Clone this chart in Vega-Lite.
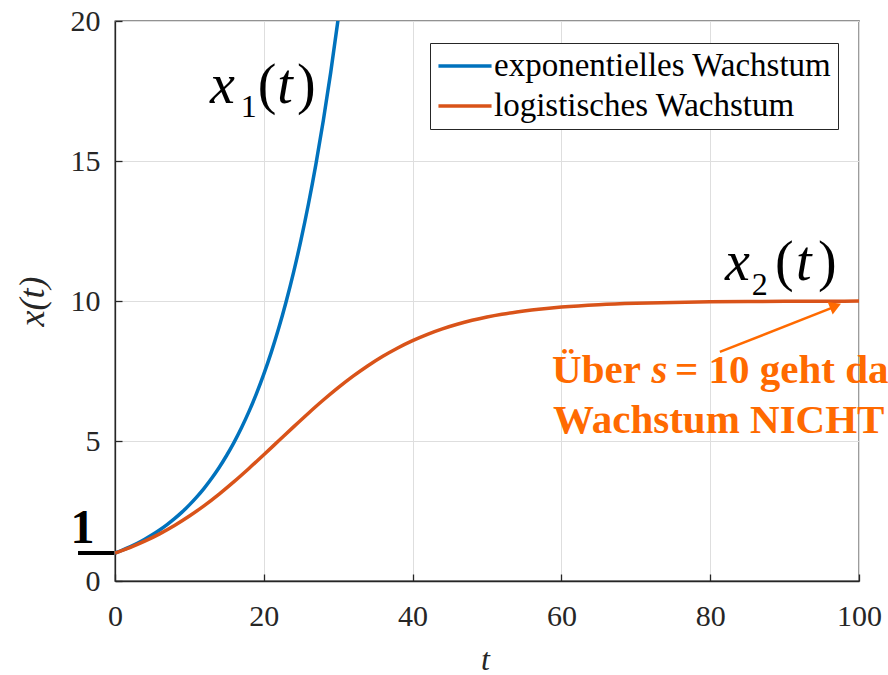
{
  "$schema": "https://vega.github.io/schema/vega-lite/v6.json",
  "width": 744,
  "height": 560,
  "autosize": {"type": "none"},
  "padding": {"left": 115, "top": 21, "right": 29, "bottom": 94},
  "background": "white",
  "config": {
    "view": {"stroke": "#262626", "strokeWidth": 1.3},
    "font": "Liberation Serif"
  },
  "datasets": {
    "curves": [
      {"t": 0, "y": 1, "series": "exponentielles Wachstum"},
      {"t": 1, "y": 1.1052, "series": "exponentielles Wachstum"},
      {"t": 2, "y": 1.2214, "series": "exponentielles Wachstum"},
      {"t": 3, "y": 1.3499, "series": "exponentielles Wachstum"},
      {"t": 4, "y": 1.4918, "series": "exponentielles Wachstum"},
      {"t": 5, "y": 1.6487, "series": "exponentielles Wachstum"},
      {"t": 6, "y": 1.8221, "series": "exponentielles Wachstum"},
      {"t": 7, "y": 2.0138, "series": "exponentielles Wachstum"},
      {"t": 8, "y": 2.2255, "series": "exponentielles Wachstum"},
      {"t": 9, "y": 2.4596, "series": "exponentielles Wachstum"},
      {"t": 10, "y": 2.7183, "series": "exponentielles Wachstum"},
      {"t": 11, "y": 3.0042, "series": "exponentielles Wachstum"},
      {"t": 12, "y": 3.3201, "series": "exponentielles Wachstum"},
      {"t": 13, "y": 3.6693, "series": "exponentielles Wachstum"},
      {"t": 14, "y": 4.0552, "series": "exponentielles Wachstum"},
      {"t": 15, "y": 4.4817, "series": "exponentielles Wachstum"},
      {"t": 16, "y": 4.953, "series": "exponentielles Wachstum"},
      {"t": 17, "y": 5.4739, "series": "exponentielles Wachstum"},
      {"t": 18, "y": 6.0496, "series": "exponentielles Wachstum"},
      {"t": 19, "y": 6.6859, "series": "exponentielles Wachstum"},
      {"t": 20, "y": 7.3891, "series": "exponentielles Wachstum"},
      {"t": 21, "y": 8.1662, "series": "exponentielles Wachstum"},
      {"t": 22, "y": 9.025, "series": "exponentielles Wachstum"},
      {"t": 23, "y": 9.9742, "series": "exponentielles Wachstum"},
      {"t": 24, "y": 11.0232, "series": "exponentielles Wachstum"},
      {"t": 25, "y": 12.1825, "series": "exponentielles Wachstum"},
      {"t": 26, "y": 13.4637, "series": "exponentielles Wachstum"},
      {"t": 27, "y": 14.8797, "series": "exponentielles Wachstum"},
      {"t": 28, "y": 16.4446, "series": "exponentielles Wachstum"},
      {"t": 29, "y": 18.1741, "series": "exponentielles Wachstum"},
      {"t": 30, "y": 20.0855, "series": "exponentielles Wachstum"},
      {"t": 31, "y": 22.198, "series": "exponentielles Wachstum"},
      {"t": 0, "y": 1, "series": "logistisches Wachstum"},
      {"t": 2, "y": 1.195, "series": "logistisches Wachstum"},
      {"t": 4, "y": 1.4219, "series": "logistisches Wachstum"},
      {"t": 6, "y": 1.6837, "series": "logistisches Wachstum"},
      {"t": 8, "y": 1.9826, "series": "logistisches Wachstum"},
      {"t": 10, "y": 2.3197, "series": "logistisches Wachstum"},
      {"t": 12, "y": 2.6949, "series": "logistisches Wachstum"},
      {"t": 14, "y": 3.1062, "series": "logistisches Wachstum"},
      {"t": 16, "y": 3.5497, "series": "logistisches Wachstum"},
      {"t": 18, "y": 4.0198, "series": "logistisches Wachstum"},
      {"t": 20, "y": 4.5085, "series": "logistisches Wachstum"},
      {"t": 22, "y": 5.007, "series": "logistisches Wachstum"},
      {"t": 24, "y": 5.5052, "series": "logistisches Wachstum"},
      {"t": 26, "y": 5.9935, "series": "logistisches Wachstum"},
      {"t": 28, "y": 6.4629, "series": "logistisches Wachstum"},
      {"t": 30, "y": 6.9057, "series": "logistisches Wachstum"},
      {"t": 32, "y": 7.316, "series": "logistisches Wachstum"},
      {"t": 34, "y": 7.6902, "series": "logistisches Wachstum"},
      {"t": 36, "y": 8.0263, "series": "logistisches Wachstum"},
      {"t": 38, "y": 8.324, "series": "logistisches Wachstum"},
      {"t": 40, "y": 8.5849, "series": "logistisches Wachstum"},
      {"t": 42, "y": 8.8109, "series": "logistisches Wachstum"},
      {"t": 44, "y": 9.005, "series": "logistisches Wachstum"},
      {"t": 46, "y": 9.1704, "series": "logistisches Wachstum"},
      {"t": 48, "y": 9.3104, "series": "logistisches Wachstum"},
      {"t": 50, "y": 9.4283, "series": "logistisches Wachstum"},
      {"t": 52, "y": 9.527, "series": "logistisches Wachstum"},
      {"t": 54, "y": 9.6094, "series": "logistisches Wachstum"},
      {"t": 56, "y": 9.6779, "series": "logistisches Wachstum"},
      {"t": 58, "y": 9.7347, "series": "logistisches Wachstum"},
      {"t": 60, "y": 9.7818, "series": "logistisches Wachstum"},
      {"t": 65, "y": 9.8665, "series": "logistisches Wachstum"},
      {"t": 70, "y": 9.9186, "series": "logistisches Wachstum"},
      {"t": 75, "y": 9.9505, "series": "logistisches Wachstum"},
      {"t": 80, "y": 9.9699, "series": "logistisches Wachstum"},
      {"t": 85, "y": 9.9817, "series": "logistisches Wachstum"},
      {"t": 90, "y": 9.9889, "series": "logistisches Wachstum"},
      {"t": 95, "y": 9.9933, "series": "logistisches Wachstum"},
      {"t": 100, "y": 9.9959, "series": "logistisches Wachstum"}
    ],
    "mathItalic": [
      {"t": 12.77, "y": 17.07, "label": "x"},
      {"t": 21.8, "y": 17.07, "label": "t"},
      {"t": 81.99, "y": 10.75, "label": "x"},
      {"t": 91.53, "y": 10.75, "label": "t"}
    ],
    "mathUpright": [
      {"t": 19.2, "y": 17.07, "label": "("},
      {"t": 24.45, "y": 17.07, "label": ")"},
      {"t": 88.71, "y": 10.75, "label": "("},
      {"t": 94.49, "y": 10.75, "label": ")"}
    ],
    "mathSub": [
      {"t": 16.9, "y": 16.57, "label": "1"},
      {"t": 85.6, "y": 10.21, "label": "2"}
    ],
    "oneMark": [{"t": -4.97, "t2": -0.1, "y": 1}],
    "oneLabel": [{"t": -4.37, "y": 1.357, "label": "1"}],
    "noteUpright": [
      {"t": 58.74, "y": 7.07, "label": "Über"},
      {"t": 75.27, "y": 7.07, "label": "= 10 geht das"},
      {"t": 58.87, "y": 5.29, "label": "Wachstum NICHT hinaus."}
    ],
    "noteItalic": [{"t": 72.1, "y": 7.07, "label": "s"}],
    "arrowLine": [{"t": 81.3, "y": 8.18, "t2": 96.6, "y2": 9.78}],
    "arrowHead": [{"t": 96.85, "y": 9.82}]
  },
  "layer": [
    {
      "data": {"name": "curves"},
      "mark": {"type": "line", "strokeWidth": 3.5, "clip": true, "interpolate": "monotone"},
      "encoding": {
        "x": {
          "field": "t", "type": "quantitative",
          "scale": {"domain": [0, 100], "nice": false, "zero": false},
          "axis": {
            "values": [0, 20, 40, 60, 80, 100],
            "title": "t",
            "titleFont": "Liberation Serif", "titleFontStyle": "italic", "titleFontWeight": "normal",
            "titleFontSize": 32, "titleColor": "#262626",
            "titleX": 370, "titleY": 88, "titleBaseline": "alphabetic", "titleAlign": "center",
            "labelFont": "Liberation Serif", "labelFontSize": 30, "labelColor": "#262626",
            "labelPadding": 27, "labelFlush": false, "labelBaseline": "top",
            "tickSize": -7, "tickColor": "#262626", "tickWidth": 1.3,
            "domainColor": "#262626", "domainWidth": 1.3,
            "grid": true, "gridColor": "#dedede", "gridWidth": 1
          }
        },
        "y": {
          "field": "y", "type": "quantitative",
          "scale": {"domain": [0, 20], "nice": false, "zero": false},
          "axis": {
            "values": [0, 5, 10, 15, 20],
            "title": "x(t)",
            "titleFont": "Liberation Serif", "titleFontStyle": "italic", "titleFontWeight": "normal",
            "titleFontSize": 36, "titleColor": "#262626",
            "titleAngle": -90, "titleX": -72, "titleY": 280, "titleBaseline": "alphabetic", "titleAlign": "center",
            "labelFont": "Liberation Serif", "labelFontSize": 30, "labelColor": "#262626",
            "labelPadding": 22, "labelFlush": false,
            "tickSize": -7, "tickColor": "#262626", "tickWidth": 1.3,
            "domainColor": "#262626", "domainWidth": 1.3,
            "grid": true, "gridColor": "#dedede", "gridWidth": 1
          }
        },
        "color": {
          "field": "series", "type": "nominal",
          "scale": {"domain": ["exponentielles Wachstum", "logistisches Wachstum"], "range": ["#0072BD", "#D95319"]},
          "legend": {
            "title": null, "orient": "none", "legendX": 315, "legendY": 22,
            "fillColor": "white", "strokeColor": "#262626",
            "padding": 6, "rowPadding": 6,
            "symbolType": "M-1.77,0H1.77", "symbolSize": 900, "symbolStrokeWidth": 3.5, "symbolOffset": 12,
            "labelFont": "Liberation Serif", "labelFontSize": 33, "labelColor": "#000000",
            "labelOffset": 12, "labelLimit": 500
          }
        }
      }
    },
    {
      "data": {"name": "oneMark"},
      "mark": {"type": "rule", "color": "#000000", "strokeWidth": 4, "clip": false},
      "encoding": {
        "x": {"field": "t", "type": "quantitative"},
        "x2": {"field": "t2"},
        "y": {"field": "y", "type": "quantitative"}
      }
    },
    {
      "data": {"name": "oneLabel"},
      "mark": {"type": "text", "font": "Liberation Serif", "fontWeight": "bold", "fontSize": 48, "color": "#000000", "align": "center", "baseline": "alphabetic", "clip": false},
      "encoding": {
        "x": {"field": "t", "type": "quantitative"},
        "y": {"field": "y", "type": "quantitative"},
        "text": {"field": "label"}
      }
    },
    {
      "data": {"name": "mathItalic"},
      "mark": {"type": "text", "font": "Liberation Serif", "fontStyle": "italic", "fontSize": 56, "color": "#000000", "align": "left", "baseline": "alphabetic"},
      "encoding": {
        "x": {"field": "t", "type": "quantitative"},
        "y": {"field": "y", "type": "quantitative"},
        "text": {"field": "label"}
      }
    },
    {
      "data": {"name": "mathUpright"},
      "mark": {"type": "text", "font": "Liberation Serif", "fontSize": 56, "color": "#000000", "align": "left", "baseline": "alphabetic"},
      "encoding": {
        "x": {"field": "t", "type": "quantitative"},
        "y": {"field": "y", "type": "quantitative"},
        "text": {"field": "label"}
      }
    },
    {
      "data": {"name": "mathSub"},
      "mark": {"type": "text", "font": "Liberation Serif", "fontSize": 32, "color": "#000000", "align": "left", "baseline": "alphabetic"},
      "encoding": {
        "x": {"field": "t", "type": "quantitative"},
        "y": {"field": "y", "type": "quantitative"},
        "text": {"field": "label"}
      }
    },
    {
      "data": {"name": "arrowLine"},
      "mark": {"type": "rule", "color": "#FF6A00", "strokeWidth": 2.5},
      "encoding": {
        "x": {"field": "t", "type": "quantitative"},
        "y": {"field": "y", "type": "quantitative"},
        "x2": {"field": "t2"},
        "y2": {"field": "y2"}
      }
    },
    {
      "data": {"name": "arrowHead"},
      "mark": {"type": "point", "shape": "triangle-up", "filled": true, "color": "#FF6A00", "opacity": 1, "size": 180, "angle": 68},
      "encoding": {
        "x": {"field": "t", "type": "quantitative"},
        "y": {"field": "y", "type": "quantitative"}
      }
    },
    {
      "data": {"name": "noteUpright"},
      "mark": {"type": "text", "font": "Liberation Serif", "fontWeight": "bold", "fontSize": 41, "color": "#FF6A00", "align": "left", "baseline": "alphabetic", "clip": false},
      "encoding": {
        "x": {"field": "t", "type": "quantitative"},
        "y": {"field": "y", "type": "quantitative"},
        "text": {"field": "label"}
      }
    },
    {
      "data": {"name": "noteItalic"},
      "mark": {"type": "text", "font": "Liberation Serif", "fontWeight": "bold", "fontStyle": "italic", "fontSize": 41, "color": "#FF6A00", "align": "left", "baseline": "alphabetic", "clip": false},
      "encoding": {
        "x": {"field": "t", "type": "quantitative"},
        "y": {"field": "y", "type": "quantitative"},
        "text": {"field": "label"}
      }
    }
  ]
}
